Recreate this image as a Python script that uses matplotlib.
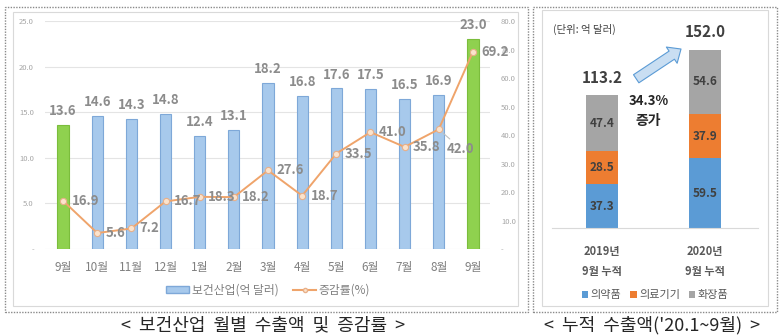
import numpy as np
import matplotlib
matplotlib.use("Agg")
import matplotlib.pyplot as plt
from matplotlib.patches import Rectangle, FancyArrowPatch, Patch
from matplotlib.lines import Line2D

plt.rcParams['font.family'] = ['Noto Sans CJK KR', 'DejaVu Sans']

# monthly exports (100M USD) and growth rate (%)
months = ['9월', '10월', '11월', '12월', '1월', '2월', '3월', '4월', '5월', '6월', '7월', '8월', '9월']
exports = [13.6, 14.6, 14.3, 14.8, 12.4, 13.1, 18.2, 16.8, 17.6, 17.5, 16.5, 16.9, 23.0]
growth = [16.9, 5.6, 7.2, 16.7, 18.3, 18.2, 27.6, 18.7, 33.5, 41.0, 35.8, 42.0, 69.2]
highlight = [0, 12]

# cumulative exports by sector
years = ['2019년\n9월 누적', '2020년\n9월 누적']
sectors = ['의약품', '의료기기', '화장품']
pharma = [37.3, 59.5]
medical = [28.5, 37.9]
cosmetics = [47.4, 54.6]
totals = [113.2, 152.0]
increase = 34.3

W, H = 780, 336


def box(l, t, r, b):
    return [l / W, 1 - b / H, (r - l) / W, (b - t) / H]


fig = plt.figure(figsize=(W / 100, H / 100), dpi=100)
fig.patch.set_facecolor('white')

# panel frames
for l, t, r, b in [(5, 7, 528, 312), (533, 7, 777, 312)]:
    fig.add_artist(Rectangle((l / W, 1 - b / H), (r - l) / W, (b - t) / H,
                             transform=fig.transFigure, fill=False,
                             edgecolor='#8a8a8a', lw=1.0, ls=(0, (1, 1))))
for l, t, r, b in [(13, 12, 518, 306), (542, 10, 768, 306)]:
    fig.add_artist(Rectangle((l / W, 1 - b / H), (r - l) / W, (b - t) / H,
                             transform=fig.transFigure, fill=False,
                             edgecolor='#d9d9d9', lw=0.8))

# ---- left: monthly bars + growth line
ax = fig.add_axes(box(45, 21, 490, 249))
x = np.arange(len(months))
face = ['#8fd14f' if i in highlight else '#a7c9ec' for i in x]
edge = ['#7bbd3c' if i in highlight else '#7ea8d8' for i in x]
ax.bar(x, exports, width=0.33, color=face, edgecolor=edge, linewidth=0.8, zorder=2)
for xi, v in zip(x, exports):
    ax.annotate(f'{v:.1f}', (xi, v), xytext=(0, 5), textcoords='offset points',
                ha='center', va='bottom', fontsize=9.5, fontweight='bold', color='#8c8c8c')
ax.set_xlim(-0.53, 12.5)
ax.set_ylim(0, 25)
ax.set_yticks([0, 5, 10, 15, 20, 25])
ax.set_yticklabels(['-', '5.0', '10.0', '15.0', '20.0', '25.0'])
ax.yaxis.grid(True, color='#e4e4e4', lw=0.8, zorder=0)
ax.set_axisbelow(True)
ax.set_xticks(x)
ax.set_xticklabels(months)
ax.tick_params(axis='x', length=0, pad=9, labelsize=8.5, labelcolor='#808080')
ax.tick_params(axis='y', length=0, pad=8, labelsize=5.5, labelcolor='#a6a6a6')
for s in ax.spines.values():
    s.set_visible(False)

ax2 = ax.twinx()
ax2.plot(x, growth, color='#efa46b', lw=1.4, marker='o', ms=4.5,
         mfc='#fbe3cc', mec='#e8b08a', mew=0.8, zorder=3)
ax2.set_ylim(0, 80)
ax2.set_yticks(np.arange(0, 81, 10))
ax2.set_yticklabels(['-'] + [f'{v:.1f}' for v in np.arange(10, 81, 10)])
ax2.tick_params(axis='y', length=0, pad=8, labelsize=5.5, labelcolor='#a6a6a6')
for s in ax2.spines.values():
    s.set_visible(False)
for xi, v in zip(x, growth):
    if v == 42.0:
        ax2.annotate(f'{v:.1f}', (xi, v), xytext=(6, -14), textcoords='offset points',
                     ha='left', va='center', fontsize=9.5, fontweight='bold', color='#8c8c8c',
                     arrowprops=dict(arrowstyle='-', color='#bfbfbf', lw=0.8,
                                     shrinkA=0, shrinkB=4))
    else:
        ax2.annotate(f'{v:.1f}', (xi, v), xytext=(6, 0), textcoords='offset points',
                     ha='left', va='center', fontsize=9.5, fontweight='bold', color='#8c8c8c')

handles = [Patch(facecolor='#a7c9ec', edgecolor='#7ea8d8', label='보건산업(억 달러)'),
           Line2D([0], [0], color='#efa46b', marker='o', ms=3, mfc='#fbe3cc',
                  mec='#e8b08a', label='증감률(%)')]
fig.legend(handles=handles, loc='center', bbox_to_anchor=(268 / W, 1 - 290 / H),
           ncol=2, frameon=False, fontsize=8.5, labelcolor='#808080',
           handlelength=2.0, handleheight=0.6, columnspacing=1.2, handletextpad=0.2)

# ---- right: cumulative stacked bars
bx = fig.add_axes(box(552, 17, 758, 228))
xb = np.arange(len(years))
colors = ['#5b9bd5', '#ed7d31', '#a5a5a5']
bottom = np.zeros(len(years))
for vals, c, name in zip([pharma, medical, cosmetics], colors, sectors):
    bx.bar(xb, vals, bottom=bottom, width=0.31, color=c, label=name, zorder=2)
    for xi, b0, v in zip(xb, bottom, vals):
        bx.text(xi, b0 + v / 2, f'{v:.1f}', ha='center', va='center',
                fontsize=8.5, fontweight='bold', color='#404040')
    bottom += np.array(vals)
for xi, t in zip(xb, totals):
    bx.annotate(f'{t:.1f}', (xi, t), xytext=(0, 7), textcoords='offset points',
                ha='center', va='bottom', fontsize=11, fontweight='bold', color='#404040')
bx.set_xlim(-0.485, 1.515)
bx.set_ylim(0, 180)
bx.set_yticks([])
bx.set_xticks(xb)
bx.set_xticklabels(years, linespacing=1.75)
bx.tick_params(axis='x', length=0, pad=12, labelsize=8, labelcolor='#595959')
for lbl in bx.get_xticklabels():
    lbl.set_fontweight('bold')
for s in ['top', 'left', 'right']:
    bx.spines[s].set_visible(False)
bx.spines['bottom'].set_color('#d9d9d9')

bx.add_patch(FancyArrowPatch((0.31, 126), (0.79, 154),
                             arrowstyle='simple,head_length=8,head_width=14,tail_width=7',
                             facecolor='#c9def2', edgecolor='#5b9bd5', lw=0.8,
                             mutation_scale=1, zorder=3))
bx.text(0.45, 108, f'{increase}%', ha='center', va='center', fontsize=9.5,
        fontweight='bold', color='#262626')
bx.text(0.45, 91, '증가', ha='center', va='center', fontsize=10,
        fontweight='bold', color='#262626')
fig.text(553 / W, 1 - 29 / H, '(단위: 억 달러)', ha='left', va='center',
         fontsize=7.5, color='#404040')
bx.legend(loc='center', bbox_to_anchor=((655 - 552) / 206, (228 - 295) / 211),
          ncol=3, frameon=False, fontsize=8, labelcolor='#595959',
          handlelength=0.6, handleheight=0.6, columnspacing=0.8, handletextpad=0.2)

# captions
fig.text(263 / W, 1 - 325 / H, '<  보건산업  월별  수출액  및  증감률  >', ha='center',
         va='center', fontsize=13, color='#262626')
fig.text(652 / W, 1 - 325 / H, "<  누적  수출액('20.1~9월)  >", ha='center',
         va='center', fontsize=13, color='#262626')

fig.savefig('out.png', dpi=100)
